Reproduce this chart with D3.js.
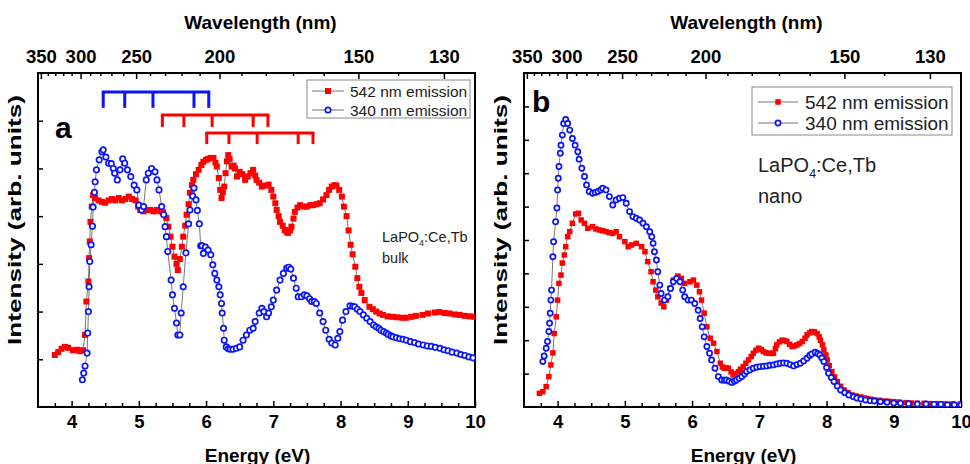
<!DOCTYPE html>
<html>
<head>
<meta charset="utf-8">
<script src="https://cdn.jsdelivr.net/npm/d3@7"></script>
<style>
  html, body { margin: 0; padding: 0; background: #fff; }
  svg { display: block; }
  text { font-family: "Liberation Sans", Arial, Helvetica, sans-serif; }
</style>
</head>
<body>
<svg id="chart" width="970" height="464"></svg>
<script>
// Photon energy <-> wavelength conversion constant (eV·nm)
const HC = 1239.84;

// Energy axis ticks (eV)
const energyMajor = [4, 5, 6, 7, 8, 9, 10];
const energyMinor = [3.75, 4.25, 4.5, 4.75, 5.25, 5.5, 5.75, 6.25, 6.5, 6.75, 7.25, 7.5, 7.75,
                     8.25, 8.5, 8.75, 9.25, 9.5, 9.75];
// Wavelength axis ticks (nm)
const wavelengthMajor = [350, 300, 250, 200, 150, 130];
const wavelengthMinor = [340, 330, 320, 310, 290, 280, 270, 260, 240, 230, 220, 210,
                         190, 180, 170, 160, 140];

// Series names
const seriesNames = ["542 nm emission", "340 nm emission"];

// (a) bulk LaPO4:Ce,Tb — excitation monitored at 542 nm  [energy eV, intensity]
const bulk542 = [
  [3.75,1.09],[3.80,1.15],[3.85,1.22],[3.90,1.26],[3.95,1.24],[4.02,1.19],[4.08,1.20],[4.12,1.17],
  [4.17,1.19],[4.20,1.51],[4.22,2.21],[4.25,2.63],[4.26,3.12],[4.27,3.47],[4.28,3.88],[4.30,4.20],
  [4.32,4.44],[4.35,4.38],[4.40,4.33],[4.45,4.30],[4.50,4.28],[4.55,4.33],[4.60,4.36],[4.65,4.33],
  [4.70,4.38],[4.75,4.33],[4.80,4.36],[4.85,4.41],[4.90,4.36],[4.95,4.33],[4.99,4.20],[5.02,4.13],
  [5.07,4.10],[5.12,4.13],[5.17,4.13],[5.22,4.10],[5.27,4.13],[5.32,4.10],[5.36,4.08],[5.41,3.96],
  [5.44,3.78],[5.47,3.57],[5.50,3.36],[5.53,3.15],[5.56,3.00],[5.58,2.87],[5.61,3.10],[5.64,3.36],
  [5.66,3.57],[5.69,3.80],[5.71,4.03],[5.74,4.25],[5.76,4.49],[5.79,4.65],[5.81,4.76],[5.85,4.88],
  [5.89,4.97],[5.93,5.07],[5.96,5.14],[6.00,5.18],[6.03,5.20],[6.07,5.22],[6.11,5.22],[6.14,5.12],
  [6.16,5.04],[6.19,4.80],[6.21,4.55],[6.23,4.38],[6.25,4.50],[6.27,4.62],[6.29,4.90],[6.31,5.15],
  [6.33,5.28],[6.35,5.20],[6.38,5.04],[6.41,5.06],[6.43,5.00],[6.46,4.83],[6.50,4.93],[6.54,4.88],
  [6.58,4.76],[6.62,4.83],[6.66,4.90],[6.70,4.97],[6.73,4.85],[6.75,4.76],[6.79,4.70],[6.83,4.62],
  [6.88,4.64],[6.93,4.66],[6.97,4.55],[7.00,4.41],[7.03,4.27],[7.05,4.13],[7.08,4.00],[7.10,3.88],
  [7.14,3.80],[7.17,3.71],[7.20,3.67],[7.22,3.65],[7.25,3.70],[7.27,3.78],[7.30,3.95],[7.32,4.09],
  [7.36,4.18],[7.40,4.23],[7.45,4.20],[7.50,4.20],[7.55,4.23],[7.59,4.23],[7.64,4.25],[7.69,4.27],
  [7.74,4.35],[7.79,4.44],[7.83,4.55],[7.87,4.62],[7.91,4.65],[7.94,4.64],[7.98,4.55],[8.02,4.41],
  [8.05,4.20],[8.09,4.00],[8.12,3.70],[8.15,3.40],[8.18,3.20],[8.22,2.94],[8.25,2.70],[8.28,2.52],
  [8.31,2.39],[8.36,2.24],[8.43,2.10],[8.48,2.05],[8.53,2.00],[8.58,1.96],[8.63,1.93],[8.70,1.90],
  [8.78,1.89],[8.85,1.88],[8.92,1.87],[8.98,1.87],[9.05,1.89],[9.12,1.91],[9.22,1.93],[9.30,1.96],
  [9.40,1.98],[9.47,1.99],[9.55,1.97],[9.62,1.96],[9.70,1.94],[9.77,1.93],[9.85,1.91],[9.92,1.90],
  [9.99,1.89]
];

// (a) bulk — excitation monitored at 340 nm
const bulk340 = [
  [4.16,0.57],[4.18,0.71],[4.20,0.86],[4.23,1.13],[4.24,1.55],[4.25,2.00],[4.26,2.52],[4.27,3.05],
  [4.29,3.40],[4.31,3.79],[4.32,4.19],[4.34,4.50],[4.35,4.72],[4.37,4.97],[4.41,5.18],[4.45,5.35],
  [4.47,5.39],[4.51,5.24],[4.55,5.11],[4.59,5.10],[4.62,5.00],[4.64,4.90],[4.68,4.76],[4.72,4.97],
  [4.76,5.20],[4.79,5.11],[4.83,4.97],[4.88,4.83],[4.93,4.65],[4.97,4.55],[5.00,4.23],[5.04,4.13],
  [5.07,4.20],[5.11,4.76],[5.14,4.90],[5.19,5.00],[5.24,4.93],[5.27,4.76],[5.30,4.55],[5.34,4.20],
  [5.37,4.03],[5.39,3.78],[5.41,3.57],[5.43,3.26],[5.48,2.66],[5.50,2.35],[5.53,2.07],[5.56,1.76],
  [5.58,1.51],[5.61,1.51],[5.63,1.97],[5.66,2.52],[5.70,3.23],[5.74,3.84],[5.76,4.13],[5.80,4.42],
  [5.82,4.59],[5.85,4.34],[5.87,4.12],[5.90,3.84],[5.92,3.38],[5.94,3.38],[5.96,3.22],[5.99,3.35],
  [6.03,3.29],[6.07,3.19],[6.10,2.98],[6.13,2.80],[6.16,2.66],[6.19,2.52],[6.21,2.35],[6.23,2.17],
  [6.24,1.97],[6.26,1.65],[6.27,1.40],[6.30,1.26],[6.33,1.22],[6.36,1.21],[6.40,1.21],[6.45,1.23],
  [6.50,1.26],[6.55,1.40],[6.60,1.51],[6.65,1.61],[6.70,1.65],[6.73,1.79],[6.79,1.97],[6.83,2.07],
  [6.86,2.00],[6.90,1.89],[6.93,1.97],[6.97,2.10],[7.00,2.24],[7.05,2.45],[7.10,2.66],[7.15,2.80],
  [7.20,2.91],[7.23,2.93],[7.26,2.89],[7.30,2.70],[7.34,2.49],[7.37,2.31],[7.42,2.31],[7.46,2.35],
  [7.50,2.33],[7.54,2.27],[7.57,2.21],[7.61,2.21],[7.64,2.17],[7.69,1.97],[7.74,1.79],[7.78,1.61],
  [7.83,1.42],[7.87,1.34],[7.92,1.30],[7.96,1.44],[7.99,1.58],[8.03,1.82],[8.08,2.00],[8.14,2.12],
  [8.18,2.11],[8.21,2.10],[8.25,2.05],[8.29,2.00],[8.34,1.93],[8.39,1.86],[8.44,1.79],[8.49,1.72],
  [8.53,1.68],[8.57,1.65],[8.60,1.61],[8.64,1.58],[8.68,1.55],[8.71,1.52],[8.75,1.49],[8.78,1.47],
  [8.83,1.45],[8.88,1.43],[8.93,1.42],[8.98,1.40],[9.04,1.37],[9.10,1.35],[9.16,1.32],[9.23,1.30],
  [9.29,1.28],[9.35,1.27],[9.41,1.25],[9.48,1.23],[9.54,1.20],[9.60,1.18],[9.66,1.15],[9.73,1.13],
  [9.79,1.10],[9.85,1.08],[9.91,1.05],[9.97,1.03]
];

// (b) nano LaPO4:Ce,Tb — excitation monitored at 542 nm
const nano542 = [
  [3.73,0.41],[3.78,0.46],[3.83,0.61],[3.87,0.91],[3.90,1.26],[3.93,1.62],[3.95,2.20],[3.98,2.70],
  [4.00,3.20],[4.02,3.70],[4.05,3.95],[4.07,4.31],[4.10,4.55],[4.12,4.80],[4.15,5.10],[4.18,5.25],
  [4.22,5.50],[4.27,5.78],[4.31,5.80],[4.35,5.60],[4.40,5.50],[4.45,5.35],[4.52,5.40],[4.57,5.33],
  [4.62,5.30],[4.67,5.28],[4.72,5.25],[4.77,5.22],[4.82,5.20],[4.87,5.25],[4.92,5.10],[5.00,4.95],
  [5.05,4.80],[5.10,4.85],[5.17,4.90],[5.25,4.80],[5.30,4.65],[5.34,4.35],[5.39,4.05],[5.42,3.75],
  [5.46,3.50],[5.49,3.30],[5.54,3.11],[5.58,3.00],[5.62,3.20],[5.67,3.55],[5.72,3.80],[5.79,3.92],
  [5.84,3.85],[5.89,3.70],[5.97,3.75],[6.02,3.80],[6.07,3.65],[6.11,3.45],[6.14,3.20],[6.18,2.81],
  [6.22,2.40],[6.27,2.06],[6.32,1.91],[6.37,1.66],[6.42,1.31],[6.45,1.20],[6.48,1.16],[6.51,1.17],
  [6.54,1.16],[6.58,1.05],[6.61,0.96],[6.65,1.00],[6.69,1.06],[6.72,1.13],[6.76,1.21],[6.80,1.31],
  [6.84,1.41],[6.88,1.51],[6.91,1.61],[6.95,1.70],[6.99,1.76],[7.03,1.72],[7.06,1.66],[7.10,1.62],
  [7.14,1.61],[7.18,1.60],[7.21,1.61],[7.24,1.75],[7.26,1.86],[7.30,1.95],[7.34,2.00],[7.38,1.99],
  [7.41,1.96],[7.45,1.88],[7.49,1.81],[7.53,1.83],[7.56,1.86],[7.60,1.90],[7.64,1.96],[7.68,2.06],
  [7.71,2.16],[7.75,2.22],[7.78,2.26],[7.82,2.25],[7.86,2.20],[7.89,2.10],[7.91,2.00],[7.94,1.86],
  [7.96,1.71],[7.99,1.56],[8.01,1.41],[8.04,1.24],[8.08,1.06],[8.12,0.90],[8.16,0.76],[8.21,0.62],
  [8.26,0.51],[8.32,0.43],[8.38,0.36],[8.44,0.33],[8.51,0.30],[8.56,0.27],[8.61,0.25],[8.66,0.23],
  [8.71,0.21],[8.78,0.20],[8.85,0.18],[8.92,0.17],[9.00,0.16],[9.08,0.15],[9.18,0.13],[9.26,0.12],
  [9.35,0.11],[9.45,0.11],[9.55,0.10],[9.65,0.10],[9.75,0.09],[9.87,0.09],[9.99,0.09]
];

// (b) nano — excitation monitored at 340 nm
const nano340 = [
  [3.78,1.36],[3.80,1.53],[3.83,1.76],[3.85,1.96],[3.87,2.26],[3.88,2.51],[3.89,2.81],[3.90,3.20],
  [3.91,3.50],[3.93,4.50],[3.94,4.95],[3.97,5.55],[3.99,5.96],[4.00,6.50],[4.01,6.85],[4.02,7.20],
  [4.04,7.60],[4.05,7.84],[4.07,8.14],[4.09,8.49],[4.12,8.61],[4.15,8.49],[4.18,8.29],[4.22,8.04],
  [4.26,7.84],[4.30,7.64],[4.32,7.42],[4.36,7.15],[4.40,6.90],[4.43,6.65],[4.47,6.45],[4.52,6.40],
  [4.56,6.42],[4.60,6.45],[4.64,6.50],[4.67,6.55],[4.72,6.50],[4.77,6.30],[4.82,6.05],[4.87,6.20],
  [4.92,6.25],[4.97,6.27],[5.02,6.10],[5.07,5.85],[5.12,5.70],[5.17,5.65],[5.22,5.60],[5.27,5.50],
  [5.32,5.40],[5.37,5.25],[5.40,5.10],[5.42,4.90],[5.44,4.65],[5.47,4.40],[5.49,4.05],[5.52,3.65],
  [5.54,3.40],[5.59,3.20],[5.64,3.30],[5.68,3.55],[5.72,3.75],[5.77,3.85],[5.82,3.75],[5.86,3.50],
  [5.89,3.30],[5.94,3.20],[5.99,3.20],[6.04,3.10],[6.09,2.90],[6.12,2.65],[6.15,2.40],[6.18,2.10],
  [6.22,1.81],[6.26,1.61],[6.29,1.41],[6.34,1.16],[6.39,0.91],[6.44,0.81],[6.48,0.80],[6.51,0.81],
  [6.55,0.77],[6.59,0.73],[6.63,0.77],[6.66,0.81],[6.70,0.86],[6.74,0.91],[6.78,0.99],[6.81,1.06],
  [6.86,1.11],[6.91,1.16],[6.96,1.19],[7.01,1.21],[7.06,1.22],[7.11,1.23],[7.16,1.25],[7.21,1.26],
  [7.26,1.29],[7.31,1.31],[7.36,1.32],[7.41,1.31],[7.46,1.27],[7.51,1.23],[7.56,1.27],[7.61,1.31],
  [7.66,1.38],[7.71,1.46],[7.75,1.54],[7.78,1.59],[7.83,1.64],[7.87,1.60],[7.90,1.56],[7.93,1.47],
  [7.96,1.36],[8.00,1.18],[8.03,1.01],[8.07,0.88],[8.11,0.76],[8.16,0.63],[8.21,0.51],[8.27,0.43],
  [8.33,0.36],[8.40,0.31],[8.45,0.27],[8.51,0.24],[8.58,0.21],[8.65,0.19],[8.71,0.18],[8.80,0.16],
  [8.90,0.14],[9.00,0.12],[9.10,0.11],[9.22,0.10],[9.35,0.09],[9.48,0.09],[9.60,0.08],[9.70,0.08],
  [9.80,0.07],[9.90,0.07],[10.0,0.06]
];

// Ce3+ 5d crystal-field comb levels (eV) drawn above panel (a)
const combBlue  = [4.47, 4.79, 5.21, 5.82, 6.04];
const combRed1  = [5.35, 5.67, 6.09, 6.70, 6.92];
const combRed2  = [6.01, 6.34, 6.76, 7.37, 7.59];

const RED = "#ff0000", BLUE = "#0a14ff";

const svg = d3.select("#chart");

function drawPanel(cfg) {
  const { left, right, top, bottom } = cfg.box;
  const x = d3.scaleLinear().domain([3.5, 10]).range([left, right]);
  const y = d3.scaleLinear().domain([0, cfg.yMax]).range([bottom, top]);
  const g = svg.append("g");

  const clipId = "clip-" + cfg.id;
  svg.append("clipPath").attr("id", clipId)
    .append("rect").attr("x", left).attr("y", top)
    .attr("width", right - left).attr("height", bottom - top);

  // bottom energy axis (inward ticks)
  g.append("g").attr("transform", `translate(0,${bottom})`)
    .call(d3.axisBottom(x).tickValues(energyMajor).tickSize(-6).tickPadding(8)
      .tickFormat(d3.format("d")));
  g.append("g").attr("transform", `translate(0,${bottom})`)
    .call(d3.axisBottom(x).tickValues(energyMinor).tickSize(-4).tickFormat(""));

  // top wavelength axis
  g.append("g").attr("transform", `translate(0,${top})`)
    .call(d3.axisTop(x).tickValues(wavelengthMajor.map(l => HC / l)).tickSize(-6).tickPadding(10)
      .tickFormat(e => Math.round(HC / e)));
  g.append("g").attr("transform", `translate(0,${top})`)
    .call(d3.axisTop(x).tickValues(wavelengthMinor.map(l => HC / l)).tickSize(-3).tickFormat(""));

  // left intensity axis (no labels)
  g.append("g").attr("transform", `translate(${left},0)`)
    .call(d3.axisLeft(y).tickValues(d3.range(1, cfg.yMax)).tickSize(-5).tickFormat(""));

  g.selectAll(".domain").remove();
  g.selectAll(".tick line").attr("stroke", "#000").attr("stroke-width", 1.5);
  g.selectAll(".tick text").attr("fill", "#000")
    .style("font-size", "18.5px").style("font-weight", "bold")
    .style("font-family", '"Liberation Sans", Arial, sans-serif');

  // frame
  g.append("rect").attr("x", left).attr("y", top)
    .attr("width", right - left).attr("height", bottom - top)
    .attr("fill", "none").attr("stroke", "#000").attr("stroke-width", 2);

  // axis titles
  g.append("text").attr("x", (left + right) / 2 + 4).attr("y", 29)
    .attr("text-anchor", "middle").style("font-size", "19px").style("font-weight", "bold")
    .text("Wavelength (nm)");
  g.append("text").attr("x", (left + right) / 2 + 1).attr("y", 462)
    .attr("text-anchor", "middle").style("font-size", "19px").style("font-weight", "bold")
    .text("Energy (eV)");
  g.append("text")
    .attr("transform", `translate(${left - 17},220) rotate(-90)`)
    .attr("text-anchor", "middle").style("font-size", "19px").style("font-weight", "bold")
    .attr("textLength", 250).attr("lengthAdjust", "spacingAndGlyphs")
    .text("Intensity (arb. units)");

  // data
  const plot = g.append("g").attr("clip-path", `url(#${clipId})`);
  const line = d3.line().x(d => x(d[0])).y(d => y(d[1]));
  const ms = cfg.markerSize;

  [cfg.red, cfg.blue].forEach(data => {
    plot.append("path").datum(data).attr("d", line)
      .attr("fill", "none").attr("stroke", "#555").attr("stroke-width", 0.8);
  });
  plot.append("g").selectAll("rect").data(cfg.red).join("rect")
    .attr("x", d => x(d[0]) - ms / 2).attr("y", d => y(d[1]) - ms / 2)
    .attr("width", ms).attr("height", ms).attr("fill", RED);
  plot.append("g").selectAll("circle").data(cfg.blue).join("circle")
    .attr("cx", d => x(d[0])).attr("cy", d => y(d[1])).attr("r", cfg.circleR)
    .attr("fill", "#fff").attr("stroke", BLUE).attr("stroke-width", 1.7);

  // panel letter
  g.append("text").attr("x", cfg.letterPos[0]).attr("y", cfg.letterPos[1])
    .style("font-size", "30px").style("font-weight", "bold").text(cfg.letter);

  // legend
  const L = cfg.legend;
  g.append("rect").attr("x", L.x).attr("y", L.y).attr("width", L.w).attr("height", L.h)
    .attr("fill", "#fff").attr("stroke", "#888").attr("stroke-width", 1);
  seriesNames.forEach((name, i) => {
    const ry = L.rows[i];
    g.append("line").attr("x1", L.lineX[0]).attr("x2", L.lineX[1]).attr("y1", ry).attr("y2", ry)
      .attr("stroke", "#777").attr("stroke-width", 1);
    const mx = (L.lineX[0] + L.lineX[1]) / 2;
    if (i === 0) {
      g.append("rect").attr("x", mx - ms / 2).attr("y", ry - ms / 2)
        .attr("width", ms).attr("height", ms).attr("fill", RED);
    } else {
      g.append("circle").attr("cx", mx).attr("cy", ry).attr("r", cfg.circleR)
        .attr("fill", "#fff").attr("stroke", BLUE).attr("stroke-width", 1.7);
    }
    g.append("text").attr("x", L.textX).attr("y", ry + L.fs * 0.36)
      .style("font-size", L.fs + "px").attr("fill", "#222").text(name);
  });

  // sample annotation
  const A = cfg.note;
  const t1 = g.append("text").attr("x", A.x).attr("y", A.y).attr("fill", "#222")
    .style("font-size", A.fs + "px");
  t1.append("tspan").text("LaPO");
  t1.append("tspan").attr("dy", A.fs * 0.3).style("font-size", (A.fs * 0.62) + "px").text("4");
  t1.append("tspan").attr("dy", -A.fs * 0.3).text(":Ce,Tb");
  g.append("text").attr("x", A.x).attr("y", A.y + A.gap).attr("fill", "#222")
    .style("font-size", A.fs + "px").text(A.sub);

  return { x, y, g };
}

// Panel (a): bulk
const pa = drawPanel({
  id: "a", box: { left: 38, right: 475, top: 73, bottom: 407 }, yMax: 7,
  red: bulk542, blue: bulk340, markerSize: 6, circleR: 2.7,
  letter: "a", letterPos: [55, 138],
  legend: { x: 307, y: 80, w: 163, h: 38, rows: [91, 110], lineX: [312, 344], textX: 350, fs: 15.5 },
  note: { x: 382, y: 242, fs: 14.5, gap: 21, sub: "bulk" }
});

// Ce3+ 5d level combs in panel (a)
[[combBlue, 6.60, 6.27, BLUE], [combRed1, 6.12, 5.87, RED], [combRed2, 5.74, 5.51, RED]]
  .forEach(([levels, yTop, yEnd, col]) => {
    const cg = pa.g.append("g").attr("stroke", col).attr("stroke-width", 3).attr("fill", "none");
    cg.append("line").attr("x1", pa.x(d3.min(levels)) - 1.5).attr("x2", pa.x(d3.max(levels)) + 1.5)
      .attr("y1", pa.y(yTop)).attr("y2", pa.y(yTop));
    cg.selectAll(".tooth").data(levels).join("line").attr("class", "tooth")
      .attr("x1", d => pa.x(d)).attr("x2", d => pa.x(d))
      .attr("y1", pa.y(yTop)).attr("y2", pa.y(yEnd));
  });

// Panel (b): nano
drawPanel({
  id: "b", box: { left: 524, right: 961, top: 73, bottom: 407 }, yMax: 10,
  red: nano542, blue: nano340, markerSize: 5.5, circleR: 2.6,
  letter: "b", letterPos: [532, 112],
  legend: { x: 752, y: 87, w: 200, h: 48, rows: [102, 123], lineX: [758, 798], textX: 805, fs: 19 },
  note: { x: 758, y: 172, fs: 20, gap: 31, sub: "nano" }
});
</script>
</body>
</html>
